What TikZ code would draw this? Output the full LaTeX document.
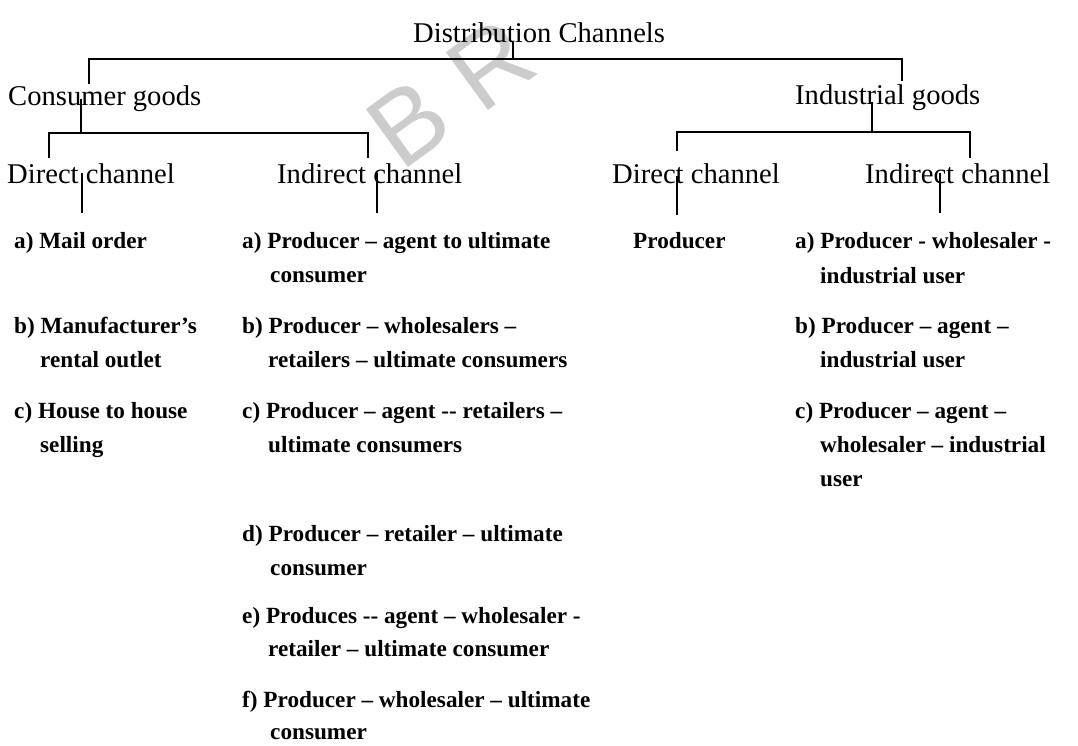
\documentclass[tikz,border=0pt]{standalone}
\usepackage{fontspec}
\setmainfont{Liberation Serif}
\newfontfamily\marksans{Liberation Sans}
\begin{document}
\begin{tikzpicture}[x=1pt,y=-1pt,
  head/.style={anchor=base west,inner sep=0pt,font=\fontsize{28.6}{33}\selectfont},
  item/.style={anchor=base west,inner sep=0pt,font=\fontsize{23.2}{27}\selectfont\bfseries},
  wire/.style={line width=1.4pt,line cap=rect},
  tick/.style={line width=1.6pt}]
\useasboundingbox (0,0) rectangle (1078,746);

% faint background mark
\node[text=black!20,rotate=36,font=\marksans\fontsize{104}{104}\selectfont,inner sep=0pt]
  (mark) at (451,93) {B R};

% headings
\node[head] (dist) at (413,43) {Distribution Channels};
\node[head] (cons) at (8,106) {Consumer goods};
\node[head] (indg) at (795,105) {Industrial goods};
\node[head] (cdir) at (7,183) {Direct channel};
\node[head] (cind) at (277,183) {Indirect channel};
\node[head] (idir) at (612,183) {Direct channel};
\node[head] (iind) at (865,183) {Indirect channel};

% junction points of the brackets
\coordinate (top) at (513,59);
\coordinate (topL) at (89,83);
\coordinate (topR) at (902,80);
\coordinate (cj) at (81,133);
\coordinate (cjL) at (49,157);
\coordinate (cjR) at (368,157);
\coordinate (ij) at (872,132);
\coordinate (ijL) at (677,150);
\coordinate (ijR) at (970,157);

\draw[wire] (top |- dist.base) -- (top);
\draw[wire] (topL) |- (top) -| (topR);
\draw[wire] ([yshift=6pt]cj |- cons.base) -- (cj);
\draw[wire] (cjL) |- (cj) -| (cjR);
\draw[wire] ([yshift=2pt]ij |- indg.base) -- (ij);
\draw[wire] (ijL) |- (ij) -| (ijR);

% consumer goods, direct
\coordinate (t1) at (82,213);
\draw[tick] ([yshift=10pt]t1 |- cdir.base) -- (t1);
\node[item] (cd1) at (14,248) {a) Mail order};
\node[item] (cd2) at (14,333) {b) Manufacturer’s};
\node[item] (cd2b) at (40,367) {rental outlet};
\node[item] (cd3) at (14,418) {c) House to house};
\node[item] (cd3b) at (40,452) {selling};

% consumer goods, indirect
\coordinate (t2) at (377,213);
\draw[tick] ([yshift=10pt]t2 |- cind.base) -- (t2);
\node[item] (ci1) at (242,248) {a) Producer – agent to ultimate};
\node[item] (ci1b) at (270,282) {consumer};
\node[item] (ci2) at (242,333) {b) Producer – wholesalers –};
\node[item] (ci2b) at (268,367) {retailers – ultimate consumers};
\node[item] (ci3) at (242,418) {c) Producer – agent -{}- retailers –};
\node[item] (ci3b) at (268,452) {ultimate consumers};
\node[item] (ci4) at (242,541) {d) Producer – retailer – ultimate};
\node[item] (ci4b) at (270,575) {consumer};
\node[item] (ci5) at (242,623) {e) Produces -{}- agent – wholesaler -};
\node[item] (ci5b) at (268,656) {retailer – ultimate consumer};
\node[item] (ci6) at (242,707) {f) Producer – wholesaler – ultimate};
\node[item] (ci6b) at (270,739) {consumer};

% industrial goods, direct
\coordinate (t3) at (677,215);
\draw[tick] ([yshift=7pt]t3 |- idir.base) -- (t3);
\node[item] (id1) at (633,248) {Producer};

% industrial goods, indirect
\coordinate (t4) at (940,213);
\draw[tick] ([yshift=10pt]t4 |- iind.base) -- (t4);
\node[item] (ii1) at (795,248) {a) Producer - wholesaler -};
\node[item] (ii1b) at (820,283) {industrial user};
\node[item] (ii2) at (795,333) {b) Producer – agent –};
\node[item] (ii2b) at (820,367) {industrial user};
\node[item] (ii3) at (795,418) {c) Producer – agent –};
\node[item] (ii3b) at (820,452) {wholesaler – industrial};
\node[item] (ii3c) at (820,486) {user};
\end{tikzpicture}
\end{document}
